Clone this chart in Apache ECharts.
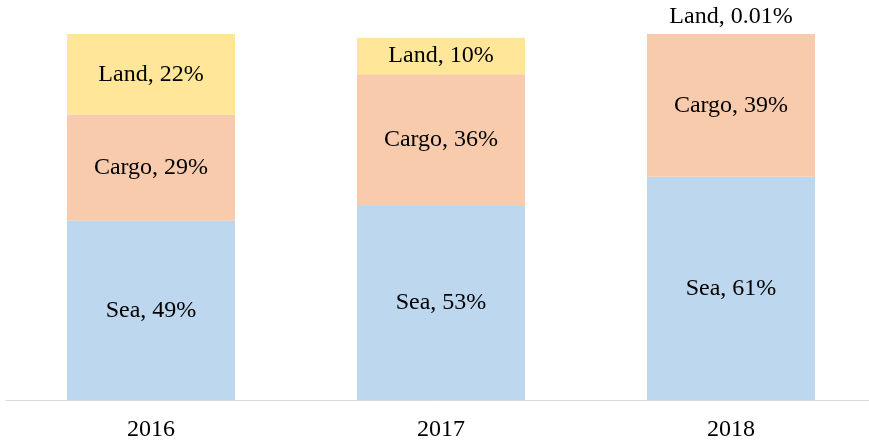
<!DOCTYPE html>
<html>
<head>
<meta charset="utf-8">
<script src="https://cdn.jsdelivr.net/npm/echarts@6/dist/echarts.min.js"></script>
<style>
  html, body { margin: 0; padding: 0; background: #fff; }
  #chart { width: 869px; height: 445px; }
</style>
</head>
<body>
<div id="chart"></div>
<script>
const years = ['2016', '2017', '2018'];
const seaShare = [49, 53, 61];
const cargoShare = [29, 36, 39];
const landShare = [22, 10, 0.01];

const FONT = '"Liberation Serif", "Times New Roman", serif';

const chart = echarts.init(document.getElementById('chart'), null, { renderer: 'canvas' });

function segment(name, data, color) {
  return {
    name,
    type: 'bar',
    stack: 'total',
    data,
    barWidth: 168,
    itemStyle: { color },
    label: {
      show: true,
      position: 'inside',
      color: '#000',
      fontFamily: FONT,
      fontSize: 24,
      formatter: (p) => `${p.seriesName}, ${p.value}%`,
    },
    emphasis: { disabled: true },
  };
}

const landSeries = segment('Land', landShare.map((v) => {
  // tiny 2018 slice gets its label above the bar
  if (v < 1) {
    return { value: v, label: { position: 'top', distance: 5 } };
  }
  return v;
}), '#FFE699');

chart.setOption({
  animation: false,
  backgroundColor: '#fff',
  grid: { left: 6, width: 870, top: 34, bottom: 45, containLabel: false, outerBoundsMode: 'none' },
  xAxis: {
    type: 'category',
    data: years,
    axisLine: { lineStyle: { color: '#D9D9D9', width: 1 } },
    axisTick: { show: false },
    axisLabel: { color: '#000', fontFamily: FONT, fontSize: 24, margin: 18 },
  },
  yAxis: {
    type: 'value',
    min: 0,
    max: 100,
    show: false,
    splitLine: { show: false },
  },
  series: [
    segment('Sea', seaShare, '#BDD7EE'),
    segment('Cargo', cargoShare, '#F8CBAD'),
    landSeries,
  ],
});
</script>
</body>
</html>
